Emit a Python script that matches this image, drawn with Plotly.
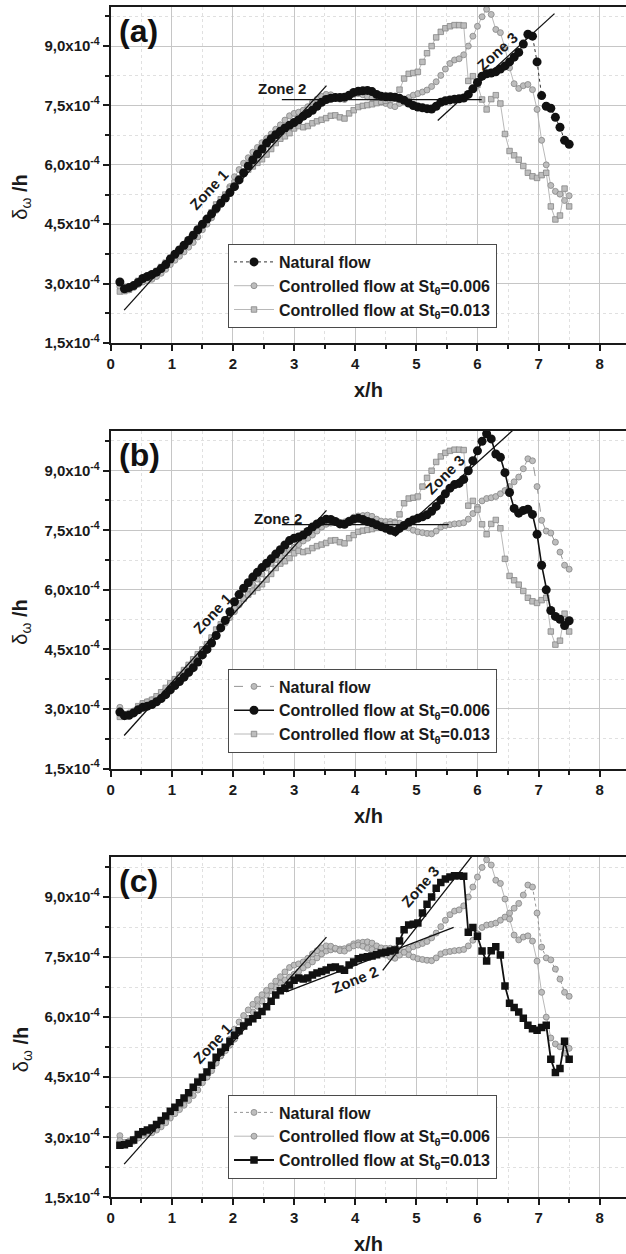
import plotly.graph_objects as go

# Streamwise position x/h (shared sampling grid of the three measurement series)
x_over_h = [
    0.15, 0.225, 0.30, 0.375, 0.45, 0.525, 0.60, 0.675, 0.75, 0.825,
    0.90, 0.975, 1.05, 1.125, 1.20, 1.275, 1.35, 1.425, 1.50, 1.575,
    1.65, 1.725, 1.80, 1.875, 1.95, 2.025, 2.10, 2.175, 2.25, 2.325,
    2.40, 2.475, 2.55, 2.625, 2.70, 2.775, 2.85, 2.925, 3.00, 3.075,
    3.15, 3.225, 3.30, 3.375, 3.45, 3.525, 3.60, 3.675, 3.75, 3.825,
    3.90, 3.975, 4.05, 4.125, 4.20, 4.275, 4.35, 4.425, 4.50, 4.575,
    4.65, 4.725, 4.80, 4.875, 4.95, 5.025, 5.10, 5.175, 5.25, 5.325,
    5.40, 5.475, 5.55, 5.625, 5.70, 5.775, 5.85, 5.925, 6.00, 6.075,
    6.15, 6.225, 6.30, 6.375, 6.45, 6.525, 6.60, 6.675, 6.75, 6.825,
    6.90, 6.975, 7.05, 7.125, 7.20, 7.275, 7.35, 7.425, 7.50,
]

# Vorticity thickness delta_omega/h, in units of 1e-4
natural_flow = [
    3.04, 2.87, 2.90, 2.95, 3.03, 3.13, 3.18, 3.23, 3.29, 3.38,
    3.48, 3.62, 3.74, 3.85, 3.97, 4.09, 4.22, 4.36, 4.50, 4.63,
    4.76, 4.90, 5.03, 5.16, 5.30, 5.45, 5.62, 5.80, 5.97, 6.13,
    6.27, 6.40, 6.55, 6.66, 6.76, 6.85, 6.93, 7.00, 7.07, 7.14,
    7.23, 7.30, 7.38, 7.48, 7.58, 7.65, 7.68, 7.70, 7.70, 7.71,
    7.76, 7.83, 7.86, 7.87, 7.88, 7.85, 7.78, 7.73, 7.72, 7.72,
    7.71, 7.68, 7.63, 7.56, 7.50, 7.46, 7.44, 7.42, 7.41, 7.48,
    7.58, 7.62, 7.64, 7.66, 7.67, 7.69, 7.78, 7.92, 8.08, 8.24,
    8.30, 8.32, 8.35, 8.42, 8.50, 8.60, 8.72, 8.84, 9.05, 9.30,
    9.25, 8.60, 7.75, 7.48, 7.43, 7.20, 6.95, 6.62, 6.52,
]

controlled_st_0006 = [
    2.92, 2.83, 2.84, 2.90, 2.98, 3.04, 3.07, 3.11, 3.18, 3.26,
    3.36, 3.48, 3.59, 3.69, 3.80, 3.92, 4.04, 4.18, 4.36, 4.50,
    4.66, 4.85, 5.04, 5.23, 5.45, 5.70, 5.88, 6.04, 6.18, 6.32,
    6.44, 6.56, 6.67, 6.78, 6.90, 7.01, 7.13, 7.24, 7.30, 7.33,
    7.38, 7.47, 7.58, 7.66, 7.73, 7.78, 7.77, 7.72, 7.66, 7.65,
    7.72, 7.78, 7.80, 7.77, 7.72, 7.69, 7.64, 7.59, 7.55, 7.50,
    7.47, 7.55, 7.62, 7.70, 7.76, 7.80, 7.84, 7.89, 7.98, 8.10,
    8.26, 8.42, 8.56, 8.65, 8.68, 8.78, 9.00, 9.25, 9.50, 9.74,
    9.93, 9.80, 9.42, 9.34, 8.95, 8.45, 8.05, 7.93, 8.00, 8.03,
    7.90, 7.40, 6.62, 6.00, 5.48, 5.33, 5.26, 5.10, 5.22,
]

controlled_st_0013 = [
    2.80, 2.81, 2.85, 2.93, 3.07, 3.14, 3.18, 3.23, 3.32, 3.42,
    3.53, 3.65, 3.75, 3.86, 3.98, 4.11, 4.25, 4.38, 4.50, 4.63,
    4.80, 5.00, 5.13, 5.25, 5.40, 5.55, 5.66, 5.78, 5.88, 5.96,
    6.05, 6.14, 6.26, 6.40, 6.55, 6.66, 6.72, 6.80, 6.92, 6.98,
    6.95, 6.98, 7.05, 7.10, 7.14, 7.18, 7.24, 7.25, 7.20, 7.17,
    7.30, 7.38, 7.46, 7.49, 7.51, 7.53, 7.56, 7.60, 7.62, 7.65,
    7.68, 7.90, 8.18, 8.30, 8.32, 8.35, 8.60, 8.82, 9.00, 9.22,
    9.36, 9.45, 9.50, 9.53, 9.53, 9.52, 8.12, 8.24, 8.02, 7.65,
    7.40, 7.66, 7.76, 7.55, 6.78, 6.35, 6.24, 6.13, 5.97, 5.80,
    5.71, 5.67, 5.74, 5.80, 4.95, 4.62, 4.72, 5.40, 4.95,
]

assert len(x_over_h) == len(natural_flow) == len(controlled_st_0006) == len(controlled_st_0013)

series_names = [
    "Natural flow",
    "Controlled flow at St<sub>θ</sub>=0.006",
    "Controlled flow at St<sub>θ</sub>=0.013",
]

x_tick_vals = [0, 1, 2, 3, 4, 5, 6, 7, 8]
y_tick_vals = [1.5, 3.0, 4.5, 6.0, 7.5, 9.0]
y_tick_text = [
    "1,5x10<sup>-4</sup>", "3,0x10<sup>-4</sup>", "4,5x10<sup>-4</sup>",
    "6,0x10<sup>-4</sup>", "7,5x10<sup>-4</sup>", "9,0x10<sup>-4</sup>",
]
y_minor_vals = [2.25, 3.75, 5.25, 6.75, 8.25, 9.75]

# Linear fits marking the three growth zones (x/h, delta_omega/h x1e-4)
zone1_x = [0.22, 3.53]
zone1_y = [2.33, 8.00]
zone2_x_a = [2.80, 6.07]
zone2_y_a = [7.65, 7.65]
zone3_x_a = [5.35, 7.26]
zone3_y_a = [7.12, 9.82]
zone2_x_b = [2.80, 5.53]
zone2_y_b = [7.64, 7.64]
zone3_x_b = [4.65, 6.58]
zone3_y_b = [7.34, 10.02]
zone2_x_c = [2.87, 5.61]
zone2_y_c = [6.63, 8.24]
zone3_x_c = [4.45, 5.92]
zone3_y_c = [7.17, 10.04]

# ---------------------------------------------------------------- layout
W, H = 626, 1254
PLOT_LEFT = 110.7
FONT = "Liberation Sans"
INK = "#1a1a1a"
panel_px = [(6.5, 343.0), (431.0, 768.5), (857.0, 1197.3)]


def py(p):
    return 1 - p / H


STYLE = {
    "black_circle": dict(symbol="circle", size=9, color="#111111"),
    "black_square": dict(symbol="square", size=7.5, color="#111111"),
    "grey_circle": dict(symbol="circle", size=6, color="#bdbdbd",
                        line=dict(color="#858585", width=0.8)),
    "grey_square": dict(symbol="square", size=5.5, color="#bdbdbd",
                        line=dict(color="#858585", width=0.8)),
}

panels = [
    dict(tag="(a)",
         markers=["black_circle", "grey_circle", "grey_square"],
         lines=[dict(color="#333333", width=1, dash="dot"),
                dict(color="#b0b0b0", width=0.9),
                dict(color="#b0b0b0", width=0.9)],
         zones=[(zone1_x, zone1_y), (zone2_x_a, zone2_y_a), (zone3_x_a, zone3_y_a)],
         labels=[("Zone 1", 1.61, 5.37, -47), ("Zone 2", 2.80, 7.92, 0),
                 ("Zone 3", 6.32, 8.87, -42)],
         top_series=0),
    dict(tag="(b)",
         markers=["grey_circle", "black_circle", "grey_square"],
         lines=[dict(color="#8a8a8a", width=0.9, dash="dash"),
                dict(color="#111111", width=1.6),
                dict(color="#b0b0b0", width=0.9)],
         zones=[(zone1_x, zone1_y), (zone2_x_b, zone2_y_b), (zone3_x_b, zone3_y_b)],
         labels=[("Zone 1", 1.66, 5.41, -47), ("Zone 2", 2.74, 7.80, 0),
                 ("Zone 3", 5.47, 8.90, -45)],
         top_series=1),
    dict(tag="(c)",
         markers=["grey_circle", "grey_circle", "black_square"],
         lines=[dict(color="#8a8a8a", width=0.9, dash="dot"),
                dict(color="#b0b0b0", width=0.9),
                dict(color="#111111", width=1.8)],
         zones=[(zone1_x, zone1_y), (zone2_x_c, zone2_y_c), (zone3_x_c, zone3_y_c)],
         labels=[("Zone 1", 1.66, 5.35, -47), ("Zone 2", 4.00, 6.93, -22),
                 ("Zone 3", 5.06, 9.27, -49)],
         top_series=2),
]

all_series = [natural_flow, controlled_st_0006, controlled_st_0013]

fig = go.Figure()
layout = dict(
    width=W, height=H, margin=dict(l=0, r=0, t=0, b=0),
    paper_bgcolor="white", plot_bgcolor="white", showlegend=True,
    font=dict(family=FONT, size=15, color=INK),
)
annotations = []

for i, p in enumerate(panels):
    s = "" if i == 0 else str(i + 1)
    xa, ya = "x" + s, "y" + s
    leg = "legend" + s
    top, bottom = panel_px[i]

    order = [k for k in range(3) if k != p["top_series"]] + [p["top_series"]]
    for k in order:
        fig.add_trace(go.Scatter(
            x=x_over_h, y=all_series[k], mode="lines+markers",
            name=series_names[k], legend=leg, legendrank=k + 1,
            marker=STYLE[p["markers"][k]], line=p["lines"][k],
            xaxis=xa, yaxis=ya, cliponaxis=True,
        ))
    for zx, zy in p["zones"]:
        fig.add_trace(go.Scatter(
            x=zx, y=zy, mode="lines", line=dict(color="#111111", width=1.3),
            showlegend=False, hoverinfo="skip", xaxis=xa, yaxis=ya,
        ))
    for text, lx, ly, ang in p["labels"]:
        annotations.append(dict(
            x=lx, y=ly, xref=xa, yref=ya, text=text, showarrow=False,
            textangle=ang, xanchor="center", yanchor="middle",
            font=dict(family=FONT, size=15, color=INK, weight="bold"),
        ))

    layout["xaxis" + s] = dict(
        domain=[PLOT_LEFT / W, 1.0], range=[0, 8.43], anchor=ya,
        tickmode="array", tickvals=x_tick_vals,
        showline=True, linecolor=INK, linewidth=2, mirror=True,
        ticks="outside", ticklen=6, tickwidth=1.5, tickcolor=INK,
        showgrid=True, gridcolor="#c6c6c6", gridwidth=1,
        minor=dict(dtick=0.5, tick0=0, ticks="outside", ticklen=4,
                   tickwidth=1.5, tickcolor=INK, showgrid=True,
                   gridcolor="#e0e0e0", griddash="dot", gridwidth=1),
        tickfont=dict(family=FONT, size=15, color=INK, weight="bold"),
        zeroline=False, automargin=False,
    )
    layout["yaxis" + s] = dict(
        domain=[py(bottom), py(top)], range=[1.5, 10.0], anchor=xa,
        tickmode="array", tickvals=y_tick_vals, ticktext=y_tick_text,
        showline=True, linecolor=INK, linewidth=2, mirror=False,
        ticks="outside", ticklen=6, tickwidth=1.5, tickcolor=INK,
        showgrid=True, gridcolor="#c6c6c6", gridwidth=1,
        minor=dict(tickmode="array", tickvals=y_minor_vals, ticks="outside",
                   ticklen=4, tickwidth=1.5, tickcolor=INK, showgrid=True,
                   gridcolor="#e0e0e0", griddash="dot", gridwidth=1),
        tickfont=dict(family=FONT, size=15, color=INK, weight="bold"),
        zeroline=False, automargin=False,
    )
    layout[leg] = dict(
        x=228 / W, y=py(top + 237.5), xanchor="left", yanchor="top",
        bgcolor="white", bordercolor="#4a4a4a", borderwidth=1,
        font=dict(family=FONT, size=16, color=INK, weight="bold"),
        itemwidth=40, traceorder="normal", tracegroupgap=0,
    )

    # panel tag
    annotations.append(dict(
        x=(PLOT_LEFT + 6) / W, y=py(top + 4), xref="paper", yref="paper",
        text=p["tag"], showarrow=False, xanchor="left", yanchor="top",
        font=dict(family=FONT, size=32, color="#111111", weight="bold"),
    ))
    # axis titles
    annotations.append(dict(
        x=(PLOT_LEFT + W) / 2 / W, y=py(bottom + 47), xref="paper", yref="paper",
        text="x/h", showarrow=False, xanchor="center", yanchor="middle",
        font=dict(family=FONT, size=20, color=INK, weight="bold"),
    ))
    annotations.append(dict(
        x=22 / W, y=py((top + bottom) / 2 + 23), xref="paper", yref="paper",
        text="δ<sub>ω</sub> <b>/h</b>", showarrow=False, textangle=-90,
        xanchor="center", yanchor="middle",
        font=dict(family=FONT, size=20, color=INK),
    ))

layout["annotations"] = annotations
fig.update_layout(**layout)
fig.write_html("out.html")
